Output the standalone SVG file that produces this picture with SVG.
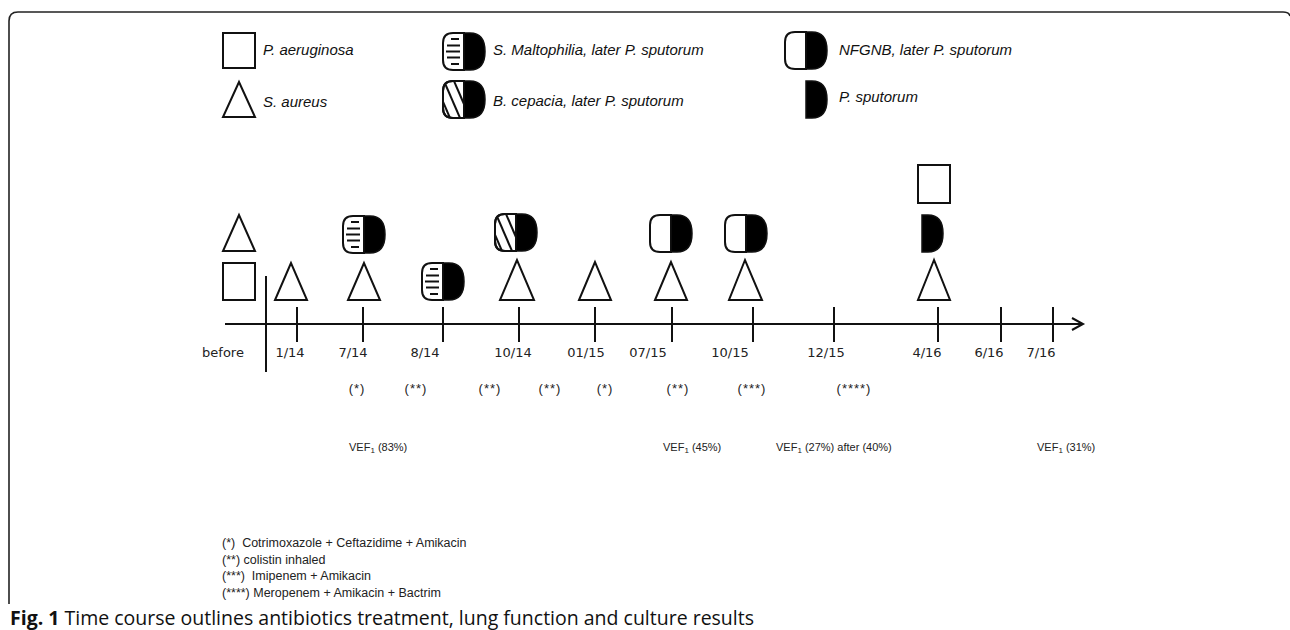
<svg xmlns="http://www.w3.org/2000/svg" xmlns:xlink="http://www.w3.org/1999/xlink" width="1290" height="630" viewBox="0 0 1290 630">
<style>
.sh{fill:#fff;stroke:#111;stroke-width:2}
.blk{fill:#000;stroke:#111;stroke-width:1.5}
.st{stroke:#111;stroke-width:2;fill:none}
.ax{stroke:#111;stroke-width:2;fill:none}
.leg{font-family:"Liberation Sans",Arial,sans-serif;font-style:italic;font-size:15px;fill:#111}
.lab{font-family:"DejaVu Sans",sans-serif;font-size:13px;fill:#222;text-anchor:middle}
.ast{font-family:"Liberation Sans",Arial,sans-serif;font-size:13px;fill:#222;text-anchor:middle;letter-spacing:1px}
.vef{font-family:"Liberation Sans",Arial,sans-serif;font-size:11px;fill:#222}
.fn{font-family:"Liberation Sans",Arial,sans-serif;font-size:12.5px;fill:#222}
.cap{font-family:"Open Sans",sans-serif;font-size:19.5px;fill:#111}
</style>
<defs>
<clipPath id="lh"><path d="M0 0 H-11 Q-21 0 -21 10 V27 Q-21 37 -11 37 H0 Z"/></clipPath>
<g id="rhalf"><path class="blk" d="M0 0 H6 C19 0 21 10 21 18.5 C21 27 19 37 6 37 H0 Z"/></g>
<g id="lhalf"><path class="sh" d="M0 0 H-11 Q-21 0 -21 10 V27 Q-21 37 -11 37 H0 Z"/></g>
<g id="hstripe">
<use xlink:href="#lhalf"/>
<g class="st"><line x1="-13" y1="6" x2="-5" y2="6"/><line x1="-17" y1="12.5" x2="-4" y2="12.5"/><line x1="-18" y1="18.5" x2="-4" y2="18.5"/><line x1="-17" y1="24.5" x2="-4" y2="24.5"/><line x1="-13" y1="31" x2="-5" y2="31"/></g>
<use xlink:href="#rhalf"/>
</g>
<g id="dstripe">
<use xlink:href="#lhalf"/>
<g class="st" clip-path="url(#lh)"><line x1="-30" y1="0" x2="-14" y2="37"/><line x1="-20" y1="0" x2="-4" y2="37"/><line x1="-10" y1="0" x2="6" y2="37"/></g>
<path class="sh" style="fill:none" d="M0 0 H-11 Q-21 0 -21 10 V27 Q-21 37 -11 37 H0 Z"/>
<use xlink:href="#rhalf"/>
</g>
<g id="nfgnb"><use xlink:href="#lhalf"/><use xlink:href="#rhalf"/></g>
</defs>

<path d="M9 604 V21 Q9 12 18 12 H1283 Q1289 12 1290 16" fill="none" stroke="#222" stroke-width="1.6"/>

<g id="legend">
<g id="leg-pa"><rect class="sh" x="223" y="33" width="32" height="35"/><text class="leg" x="263" y="55">P. aeruginosa</text></g>
<g id="leg-sa"><polygon class="sh" points="239,82 223,117 255,117"/><text class="leg" x="263" y="107">S. aureus</text></g>
<g id="leg-sm"><use xlink:href="#hstripe" x="464" y="33"/><text class="leg" x="493" y="55">S. Maltophilia,  later P. sputorum</text></g>
<g id="leg-bc"><use xlink:href="#dstripe" x="464" y="81"/><text class="leg" x="493" y="106">B. cepacia,  later P. sputorum</text></g>
<g id="leg-nf"><use xlink:href="#nfgnb" x="806" y="32"/><text class="leg" x="839" y="55">NFGNB,  later P. sputorum</text></g>
<g id="leg-ps"><use xlink:href="#rhalf" x="806" y="81"/><text class="leg" x="839" y="102">P. sputorum</text></g>
</g>

<g id="connectors">
<line class="ax" x1="225" y1="324" x2="1082" y2="324"/>
<polyline class="ax" points="1072,318 1083,324 1072,330"/>
<line class="ax" x1="266" y1="276" x2="266" y2="372"/>
<g class="ax">
<line x1="297" y1="307" x2="297" y2="342"/>
<line x1="363" y1="307" x2="363" y2="342"/>
<line x1="443" y1="307" x2="443" y2="342"/>
<line x1="519" y1="307" x2="519" y2="342"/>
<line x1="595" y1="307" x2="595" y2="342"/>
<line x1="672" y1="307" x2="672" y2="342"/>
<line x1="753" y1="307" x2="753" y2="342"/>
<line x1="834" y1="307" x2="834" y2="342"/>
<line x1="938" y1="307" x2="938" y2="342"/>
<line x1="1001" y1="307" x2="1001" y2="342"/>
<line x1="1053" y1="307" x2="1053" y2="342"/>
</g>
</g>

<g id="t-before"><polygon class="sh" points="239,215 223,251 255,251"/><rect class="sh" x="223" y="263" width="32" height="37"/><text class="lab" x="223" y="357">before</text></g>
<g id="t-0114"><polygon class="sh" points="291,263 275,300 307,300"/><text class="lab" x="290" y="357">1/14</text></g>
<g id="t-0714"><use xlink:href="#hstripe" x="364" y="216"/><polygon class="sh" points="364,263 348,300 380,300"/><text class="lab" x="353" y="357">7/14</text></g>
<g id="t-0814"><use xlink:href="#hstripe" x="443" y="263"/><text class="lab" x="425" y="357">8/14</text></g>
<g id="t-1014"><use xlink:href="#dstripe" x="516" y="214"/><polygon class="sh" points="517,260 500,300 534,300"/><text class="lab" x="513" y="357">10/14</text></g>
<g id="t-0115"><polygon class="sh" points="595,262 579,300 611,300"/><text class="lab" x="586" y="357">01/15</text></g>
<g id="t-0715"><use xlink:href="#nfgnb" x="671" y="215"/><polygon class="sh" points="671,262 655,300 687,300"/><text class="lab" x="648" y="357">07/15</text></g>
<g id="t-1015"><use xlink:href="#nfgnb" x="746" y="215"/><polygon class="sh" points="745,260 729,300 762,300"/><text class="lab" x="730" y="357">10/15</text></g>
<g id="t-1215"><text class="lab" x="826" y="357">12/15</text></g>
<g id="t-0416"><rect class="sh" x="918" y="165" width="32" height="38"/><use xlink:href="#rhalf" x="922" y="215"/><polygon class="sh" points="934,260 918,300 950,300"/><text class="lab" x="927" y="357">4/16</text></g>
<g id="t-0616"><text class="lab" x="989" y="357">6/16</text></g>
<g id="t-0716"><text class="lab" x="1041" y="357">7/16</text></g>

<g id="treatments">
<text class="ast" x="357" y="393">(*)</text>
<text class="ast" x="416" y="393">(**)</text>
<text class="ast" x="490" y="393">(**)</text>
<text class="ast" x="550" y="393">(**)</text>
<text class="ast" x="605" y="393">(*)</text>
<text class="ast" x="678" y="393">(**)</text>
<text class="ast" x="752" y="393">(***)</text>
<text class="ast" x="854" y="393">(****)</text>
</g>

<g id="vef">
<text class="vef" x="349" y="451">VEF<tspan font-size="8" dy="2">1</tspan><tspan dy="-2"> (83%)</tspan></text>
<text class="vef" x="663" y="451">VEF<tspan font-size="8" dy="2">1</tspan><tspan dy="-2"> (45%)</tspan></text>
<text class="vef" x="776" y="451">VEF<tspan font-size="8" dy="2">1</tspan><tspan dy="-2"> (27%) after (40%)</tspan></text>
<text class="vef" x="1037" y="451">VEF<tspan font-size="8" dy="2">1</tspan><tspan dy="-2"> (31%)</tspan></text>
</g>

<g id="footnotes">
<text class="fn" x="222" y="547" xml:space="preserve">(*)  Cotrimoxazole + Ceftazidime + Amikacin</text>
<text class="fn" x="222" y="563.5">(**) colistin inhaled</text>
<text class="fn" x="222" y="580" xml:space="preserve">(***)  Imipenem + Amikacin</text>
<text class="fn" x="222" y="596.5">(****) Meropenem + Amikacin + Bactrim</text>
</g>

<text class="cap" x="10" y="625"><tspan font-weight="bold">Fig. 1</tspan> Time course outlines antibiotics treatment, lung function and culture results</text>
</svg>
